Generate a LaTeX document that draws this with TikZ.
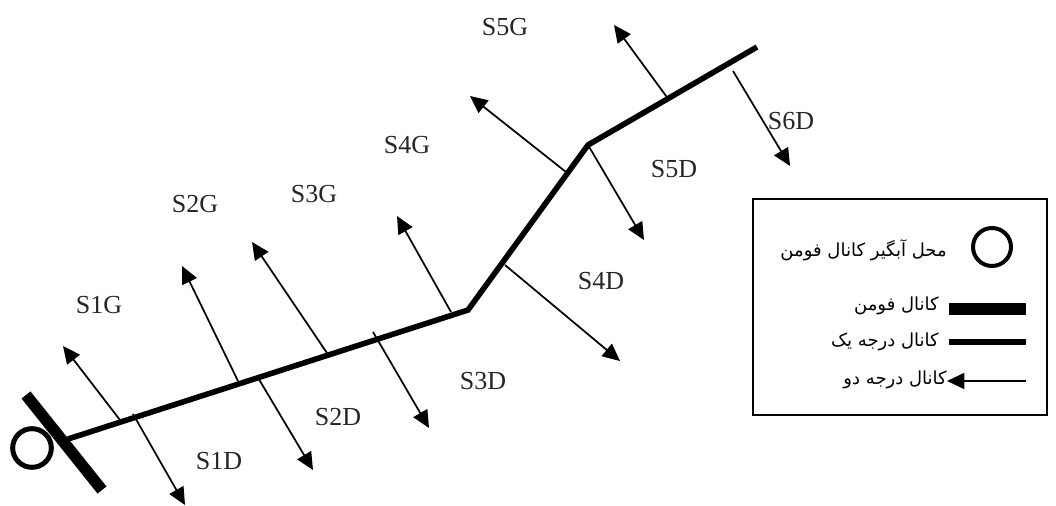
\documentclass[tikz,border=0pt]{standalone}
\usepackage{fontspec}
\setmainfont{Liberation Serif}
\newfontfamily\arabicfont[Script=Arabic]{DejaVu Sans}
\TeXXeTstate=1
\usetikzlibrary{arrows.meta}
\tikzset{
  lab/.style={inner sep=0pt,font=\fontsize{19.5}{22}\selectfont,text=black!85},
  fa/.style={inner sep=0pt,anchor=east,font=\arabicfont\fontsize{13.5}{16}\selectfont},
  arm/.style={line width=1.3pt,-{Triangle[length=13pt,width=12pt]}},
  main/.style={line width=4.2pt},
  river/.style={line width=8.6pt},
  ring/.style={circle,draw,line width=3pt,inner sep=0pt,minimum size=28.5pt},
}
\begin{document}
\begin{tikzpicture}[x=0.75pt,y=-0.75pt]
\useasboundingbox (0,0) rectangle (1056,506);
% main channel
\coordinate (m0) at (68,439);
\coordinate (m1) at (468,310);
\coordinate (m2) at (588,145);
\coordinate (m3) at (757,47);
\draw[main,line join=miter] (m0) -- (m1) -- (m2) -- (m3);
% head works
\node[ring,line width=3.75pt,minimum size=29pt] (head) at (32,448) {};
\coordinate (r0) at (26,395);
\coordinate (r1) at (102,490);
\draw[river] (r0) -- (r1);
% arms
\foreach \n/\ax/\ay/\bx/\by in {
 a1/120/420/63/346, a2/133/414/185/505, a3/238/381/182/266, a4/257/376/313/470,
 a5/327/353/252/242, a6/373/332/429/428, a7/451/312/397/216, a8/505/265/620/361,
 a9/566/172/470/96, a10/588/145/644/240, a11/669/100/614/25, a12/733/71/790/166}{
  \coordinate (\n s) at (\ax,\ay);
  \coordinate (\n e) at (\bx,\by);
  \draw[arm] (\n s) -- (\n e);
}
% labels
\node[lab] (s1g) at (99,305) {S1G};
\node[lab] (s1d) at (219,461) {S1D};
\node[lab] (s2g) at (195,204) {S2G};
\node[lab] (s2d) at (338,417) {S2D};
\node[lab] (s3g) at (314,194) {S3G};
\node[lab] (s3d) at (483,381) {S3D};
\node[lab] (s4g) at (407,145) {S4G};
\node[lab] (s4d) at (601,281) {S4D};
\node[lab] (s5g) at (505,27) {S5G};
\node[lab] (s5d) at (674,169) {S5D};
\node[lab] (s6d) at (791,121) {S6D};
% legend
\coordinate (b0) at (753,199);
\coordinate (b1) at (1047,415);
\draw[line width=1.5pt] (b0) rectangle (b1);
\node[ring] (lring) at (992,247) {};
\node[fa] (t0) at (947,250) {\beginR محل آبگیر کانال فومن\endR};
\coordinate (k1a) at (949,309); \coordinate (k1b) at (1026,309);
\draw[river] (k1a) -- (k1b);
\node[fa] (t1) at (939,306) {\beginR کانال فومن\endR};
\coordinate (k2a) at (949,342); \coordinate (k2b) at (1026,342);
\draw[main] (k2a) -- (k2b);
\node[fa] (t2) at (939,342) {\beginR کانال درجه یک\endR};
\coordinate (k3a) at (1026,381); \coordinate (k3b) at (947,381);
\draw[arm] (k3a) -- (k3b);
\node[fa] (t3) at (947,380) {\beginR کانال درجه دو\endR};
\end{tikzpicture}
\end{document}
